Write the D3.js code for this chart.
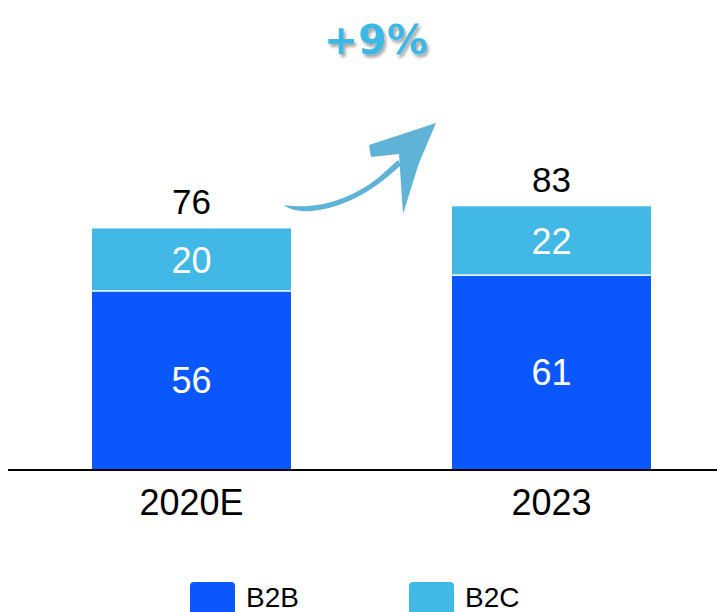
<!DOCTYPE html>
<html><head><meta charset="utf-8">
<script src="https://cdn.jsdelivr.net/npm/d3@7"></script>
<style>html,body{margin:0;padding:0;background:#fff;}svg{display:block;font-family:"Liberation Sans",Arial,sans-serif;}</style>
</head><body>
<svg id="c" width="717" height="612"></svg>
<script>
const categories = ["2020E", "2023"];
const b2b = [56, 61];
const b2c = [20, 22];
const totals = [76, 83];
const seriesNames = ["B2B", "B2C"];
const growthLabel = "+9%";

const colors = {B2B: "#0a57fe", B2C: "#41b8e6"};
const svg = d3.select("#c");
const baseY = 469;
const x = d3.scaleBand().domain(categories).range([2, 741]).paddingInner(1 - 199 / 360).paddingOuter(0.25);
const y = d3.scaleLinear().domain([0, 100]).range([baseY, baseY - 316.5]);

const data = categories.map((c, i) => ({cat: c, B2B: b2b[i], B2C: b2c[i], total: totals[i]}));
const stack = d3.stack().keys(seriesNames)(data);

const defs = svg.append("defs");
const f = defs.append("filter").attr("id", "sh").attr("x", "-20%").attr("y", "-20%").attr("width", "140%").attr("height", "160%");
f.append("feDropShadow").attr("dx", 2).attr("dy", 3).attr("stdDeviation", 1.5).attr("flood-color", "#000").attr("flood-opacity", 0.35);

stack.forEach(s => {
  svg.append("g").selectAll("rect").data(s).join("rect")
    .attr("x", d => x(d.data.cat))
    .attr("width", x.bandwidth())
    .attr("y", d => y(d[1]))
    .attr("height", d => y(d[0]) - y(d[1]) - (s.key === "B2C" ? 1.5 : 0))
    .attr("fill", colors[s.key]);
  svg.append("g").selectAll("text").data(s).join("text")
    .attr("x", d => x(d.data.cat) + x.bandwidth() / 2)
    .attr("y", d => (y(d[0]) + y(d[1])) / 2 + 13)
    .attr("text-anchor", "middle").attr("fill", "#fff").attr("font-size", 36)
    .text(d => d.data[s.key]);
});

svg.append("g").selectAll("text").data(data).join("text")
  .attr("x", d => x(d.cat) + x.bandwidth() / 2)
  .attr("y", d => y(d.total) - 14)
  .attr("text-anchor", "middle").attr("fill", "#000").attr("font-size", 35)
  .text(d => d.total);

const xAxis = svg.append("g").attr("transform", `translate(0,${baseY})`)
  .call(d3.axisBottom(x).tickSize(0).tickPadding(20));
xAxis.select(".domain").attr("d", "M8,1H717").attr("stroke", "#000").attr("stroke-width", 1.8);
xAxis.selectAll("text").attr("font-size", 36).attr("fill", "#000").attr("font-family", "Liberation Sans, Arial, sans-serif");

// legend
const legX = [190, 409];
seriesNames.forEach((k, i) => {
  svg.append("rect").attr("x", legX[i]).attr("y", 582).attr("width", 45).attr("height", 40).attr("rx", 4).attr("fill", colors[k]);
  svg.append("text").attr("x", legX[i] + 56).attr("y", 607).attr("font-size", 28).attr("fill", "#000").text(k);
});

// growth arrow (hand-drawn style)
const ac = "#5fb3d6";
svg.append("path")
  .attr("d", "M284,205 C315,210 350,200 378,178 L398,160 L401,165 C380,185 350,207 312,211 C300,212 290,210 284,205 Z")
  .attr("fill", ac);
svg.append("path")
  .attr("d", "M436,123 L369,145 L371,157 L399,154 L403,214 L419,163 Z")
  .attr("fill", ac);

svg.append("text").attr("x", 376).attr("y", 54).attr("text-anchor", "middle")
  .attr("font-family", "DejaVu Sans, sans-serif").attr("font-weight", "bold").attr("font-size", 41)
  .attr("fill", "#3db8e6").attr("filter", "url(#sh)").text(growthLabel);
</script>
</body></html>
